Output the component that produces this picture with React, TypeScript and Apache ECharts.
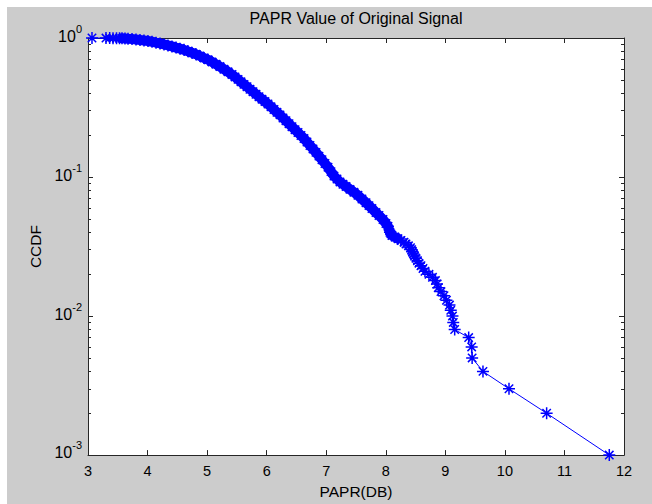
import React, { useEffect, useRef } from "react";
import * as echarts from "echarts";

// PAPR (dB) values and the matching CCDF values
const papr: number[] = [
  3.067, 3.302, 3.364, 3.42, 3.479, 3.529, 3.571, 3.621, 3.672, 3.739, 3.806,
  3.873, 3.94, 4.007, 4.075, 4.142, 4.209, 4.276, 4.343, 4.41, 4.478, 4.545,
  4.612, 4.679, 4.746, 4.813, 4.88, 4.948, 5.015, 5.082, 5.149, 5.216, 5.283,
  5.351, 5.418, 5.468, 5.519, 5.569, 5.619, 5.67, 5.72, 5.77, 5.821, 5.871,
  5.921, 5.972, 6.022, 6.073, 6.123, 6.173, 6.224, 6.274, 6.324, 6.375, 6.425,
  6.476, 6.526, 6.576, 6.627, 6.677, 6.727, 6.778, 6.828, 6.878, 6.929, 6.979,
  7.03, 7.08, 7.13, 7.181, 7.231, 7.281, 7.332, 7.399, 7.466, 7.533, 7.6,
  7.668, 7.718, 7.768, 7.836, 7.886, 7.953, 8.003, 8.037,
  8.07, 8.087, 8.104, 8.155, 8.205, 8.255, 8.306, 8.339, 8.381, 8.415, 8.435,
  8.448, 8.465, 8.482, 8.507, 8.532, 8.557, 8.591, 8.625, 8.658, 8.725, 8.784,
  8.834, 8.86, 8.881, 8.927, 8.977, 9.019, 9.07, 9.091, 9.12, 9.133, 9.157,
  9.392, 9.442, 9.45, 9.632, 10.069, 10.701, 11.753,
];

const ccdf: number[] = [
  1.0, 0.999, 0.998, 0.997, 0.996, 0.995, 0.994, 0.992, 0.987, 0.982, 0.976,
  0.968, 0.96, 0.952, 0.94, 0.926, 0.914, 0.899, 0.885, 0.87, 0.853, 0.838,
  0.822, 0.802, 0.783, 0.764, 0.742, 0.719, 0.698, 0.673, 0.647, 0.623, 0.596,
  0.571, 0.546, 0.525, 0.504, 0.484, 0.464, 0.446, 0.428, 0.411, 0.394, 0.378,
  0.363, 0.349, 0.335, 0.32, 0.306, 0.292, 0.28, 0.266, 0.254, 0.242, 0.23,
  0.219, 0.209, 0.199, 0.189, 0.1786, 0.1687, 0.1593, 0.1504, 0.1414, 0.1331, 0.1251,
  0.1177, 0.1094, 0.1016, 0.0968, 0.0922, 0.0887, 0.0856, 0.0815, 0.0776, 0.0739, 0.0695,
  0.0654, 0.0623, 0.0593, 0.0555, 0.0529, 0.0495, 0.0463, 0.0442,
  0.04, 0.039, 0.038, 0.037, 0.036, 0.035, 0.034, 0.033, 0.032, 0.031, 0.03,
  0.029, 0.028, 0.027, 0.026, 0.025, 0.024, 0.023, 0.022, 0.021, 0.02, 0.019,
  0.018, 0.017, 0.016, 0.015, 0.014, 0.013, 0.012, 0.011, 0.01, 0.009, 0.008,
  0.007, 0.006, 0.005, 0.004, 0.003, 0.002, 0.001,
];

const xTicks: number[] = [3, 4, 5, 6, 7, 8, 9, 10, 11, 12];
const yMajor: number[] = [0.001, 0.01, 0.1, 1];
const yMinor: number[] = [
  0.002, 0.003, 0.004, 0.005, 0.006, 0.007, 0.008, 0.009,
  0.02, 0.03, 0.04, 0.05, 0.06, 0.07, 0.08, 0.09,
  0.2, 0.3, 0.4, 0.5, 0.6, 0.7, 0.8, 0.9,
];

const titleText = "PAPR Value of Original Signal";
const xName = "PAPR(DB)";
const yName = "CCDF";

const FONT = "'Liberation Sans', Arial, sans-serif";
const AXIS_COLOR = "#262626";
const BLUE = "#0000ff";

export default function App() {
  const ref = useRef<HTMLDivElement>(null);

  useEffect(() => {
    if (!ref.current) return;
    const chart = echarts.init(ref.current, undefined, { renderer: "svg" });

    const logAxisBase = {
      type: "log" as const,
      logBase: 10,
      min: 0.001,
      max: 1,
      splitLine: { show: false },
    };

    const points = papr.map((x, i) => [x, ccdf[i]]);
    // densely overlapping markers form a solid band where points are crowded
    const crowded = points.filter((p) => p[1] >= 0.036 && p[0] >= 3.55);

    const option: any = {
      animation: false,
      backgroundColor: "#cccccc",
      textStyle: { fontFamily: FONT },
      title: {
        text: titleText,
        left: 349,
        top: 3.5,
        textAlign: "center",
        padding: 0,
        textStyle: {
          fontSize: 16,
          fontWeight: "normal",
          color: "#000",
          fontFamily: FONT,
        },
      },
      grid: {
        left: 81,
        top: 31,
        width: 536,
        height: 423,
        show: true,
        backgroundColor: "#ffffff",
        borderWidth: 0,
      },
      xAxis: [
        {
          type: "value",
          position: "bottom",
          min: 3,
          max: 12,
          interval: 1,
          name: xName,
          nameLocation: "middle",
          nameGap: 25,
          nameTextStyle: { fontSize: 15.5, color: "#000", fontFamily: FONT },
          axisLine: { show: true, lineStyle: { color: AXIS_COLOR, width: 1 } },
          axisTick: {
            show: true,
            inside: true,
            length: 5,
            lineStyle: { color: AXIS_COLOR },
            customValues: xTicks,
          },
          axisLabel: {
            show: true,
            margin: 8,
            fontSize: 14.5,
            color: "#000",
            fontFamily: FONT,
            customValues: xTicks,
          },
          splitLine: { show: false },
        },
        {
          type: "value",
          position: "top",
          min: 3,
          max: 12,
          interval: 1,
          axisLine: { show: true, lineStyle: { color: AXIS_COLOR, width: 1 } },
          axisTick: {
            show: true,
            inside: true,
            length: 5,
            lineStyle: { color: AXIS_COLOR },
          },
          axisLabel: { show: false },
          splitLine: { show: false },
        },
      ],
      yAxis: [
        {
          ...logAxisBase,
          position: "left",
          name: yName,
          nameLocation: "middle",
          nameGap: 44,
          nameTextStyle: { fontSize: 15.5, color: "#000", fontFamily: FONT },
          axisLine: { show: true, lineStyle: { color: AXIS_COLOR, width: 1 } },
          axisTick: {
            show: true,
            inside: true,
            length: 5,
            lineStyle: { color: AXIS_COLOR },
            customValues: yMajor,
          },
          axisLabel: {
            show: true,
            margin: 6,
            color: "#000",
            fontFamily: FONT,
            padding: [0, 0, 3, 0],
            customValues: yMajor,
            formatter: (v: number) => {
              const e = Math.round(Math.log10(v));
              return e === -3 ? `{b3|10}{s3|${e}}` : `{b|10}{s|${e}}`;
            },
            rich: {
              b: {
                fontSize: 16,
                lineHeight: 16,
                color: "#000",
                fontFamily: FONT,
                verticalAlign: "bottom",
              },
              s: {
                fontSize: 11,
                lineHeight: 11,
                color: "#000",
                fontFamily: FONT,
                verticalAlign: "bottom",
                padding: [0, 0, 10, 0],
              },
              b3: {
                fontSize: 16,
                lineHeight: 16,
                color: "#000",
                fontFamily: FONT,
                verticalAlign: "bottom",
                padding: [0, 0, 1, 0],
              },
              s3: {
                fontSize: 11,
                lineHeight: 11,
                color: "#000",
                fontFamily: FONT,
                verticalAlign: "bottom",
                padding: [0, 0, 11, 0],
              },
            },
          },
        },
        {
          ...logAxisBase,
          position: "left",
          axisLine: { show: false },
          axisTick: {
            show: true,
            inside: true,
            length: 3,
            lineStyle: { color: AXIS_COLOR },
            customValues: yMinor,
          },
          axisLabel: { show: false },
        },
        {
          ...logAxisBase,
          position: "right",
          axisLine: { show: true, lineStyle: { color: AXIS_COLOR, width: 1 } },
          axisTick: {
            show: true,
            inside: true,
            length: 5,
            lineStyle: { color: AXIS_COLOR },
            customValues: yMajor,
          },
          axisLabel: { show: false },
        },
        {
          ...logAxisBase,
          position: "right",
          axisLine: { show: false },
          axisTick: {
            show: true,
            inside: true,
            length: 3,
            lineStyle: { color: AXIS_COLOR },
            customValues: yMinor,
          },
          axisLabel: { show: false },
        },
      ],
      series: [
        {
          type: "line",
          xAxisIndex: 0,
          yAxisIndex: 0,
          data: crowded,
          symbol: "none",
          silent: true,
          clip: false,
          lineStyle: { color: BLUE, width: 10, cap: "round", join: "round" },
        },
        {
          type: "line",
          xAxisIndex: 0,
          yAxisIndex: 0,
          data: points,
          symbol:
            "path://M5,0L5,10M0,5L10,5M1.5,1.5L8.5,8.5M1.5,8.5L8.5,1.5",
          symbolSize: 12,
          showAllSymbol: true,
          silent: true,
          clip: false,
          lineStyle: { color: BLUE, width: 1 },
          itemStyle: { color: BLUE, borderColor: BLUE, borderWidth: 1.5 },
        },
      ],
    };

    chart.setOption(option);
    return () => chart.dispose();
  }, []);

  return (
    <div
      style={{
        position: "absolute",
        left: 0,
        top: 0,
        width: 652,
        height: 504,
        background: "#ffffff",
      }}
    >
      <div
        ref={ref}
        style={{
          position: "absolute",
          left: 7,
          top: 7,
          width: 645,
          height: 497,
        }}
      />
    </div>
  );
}
